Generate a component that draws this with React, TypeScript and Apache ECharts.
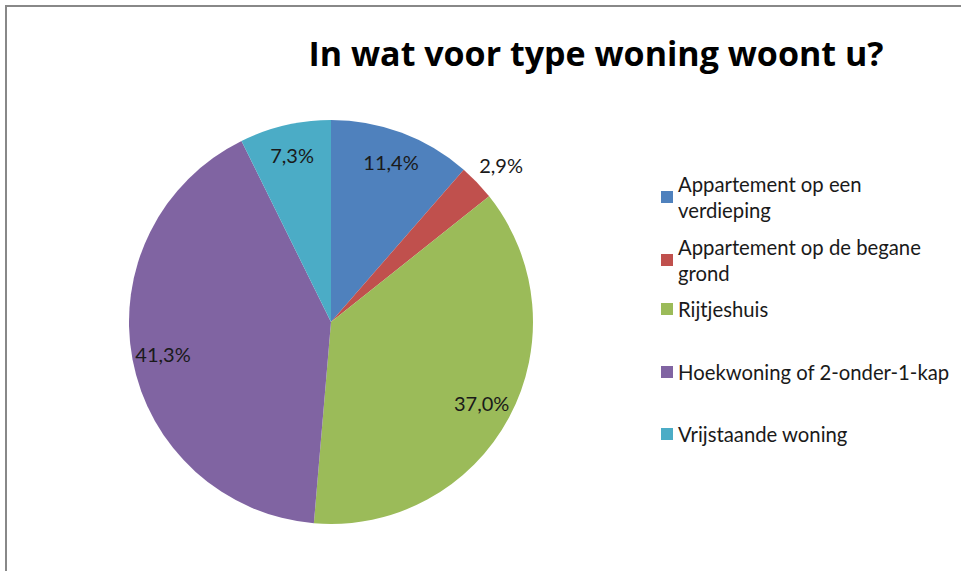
import React, { useEffect, useRef } from "react";
import * as echarts from "echarts";

const titleText = "In wat voor type woning woont u?";
const categories = [
  "Appartement op een verdieping",
  "Appartement op de begane grond",
  "Rijtjeshuis",
  "Hoekwoning of 2-onder-1-kap",
  "Vrijstaande woning",
];
const legendLabels = [
  "Appartement op een\nverdieping",
  "Appartement op de begane\ngrond",
  "Rijtjeshuis",
  "Hoekwoning of 2-onder-1-kap",
  "Vrijstaande woning",
];
const values = [11.4, 2.9, 37.0, 41.3, 7.3];
const labelTexts = ["11,4%", "2,9%", "37,0%", "41,3%", "7,3%"];
const colors = ["#4F81BD", "#C0504D", "#9BBB59", "#8064A2", "#4BACC6"];
const legendTops = [158, 221, 296, 359, 421];

export default function App() {
  const ref = useRef<HTMLDivElement>(null);
  useEffect(() => {
    if (!ref.current) return;
    const chart = echarts.init(ref.current, null, { renderer: "svg" });
    const font = "Lato, 'Open Sans', sans-serif";
    const legends = categories.map((name, i) => {
      const multi = legendLabels[i].includes("\n");
      return {
        data: [name],
        left: 661,
        top: legendTops[i],
        orient: "vertical",
        padding: 0,
        itemWidth: 12,
        itemHeight: 12,
        itemGap: 6,
        icon: "rect",
        selectedMode: false,
        formatter: () => legendLabels[i],
        textStyle: {
          fontFamily: font,
          fontSize: 20.3,
          color: "#1a1a1a",
          lineHeight: 26,
          padding: multi ? [26, 0, 0, 0] : 0,
        },
      };
    });
    const pieData = categories.map((name, i) => ({
      name,
      value: values[i],
      itemStyle: { color: colors[i] },
    }));
    const labelData = categories.map((name, i) => ({
      name,
      value: values[i],
      label:
        i === 1
          ? { position: "outside", offset: [-13, -8] }
          : { position: "inside" },
      labelLine: { show: false, length: 14, length2: 0 },
    }));
    chart.setOption({
      animation: false,
      backgroundColor: "#ffffff",
      title: {
        text: titleText,
        left: 591,
        top: 31,
        textAlign: "center",
        textStyle: {
          fontFamily: "'Open Sans', Lato, sans-serif",
          fontSize: 34,
          fontWeight: "bold",
          color: "#000000",
        },
      },
      legend: legends,
      graphic: [
        {
          type: "rect",
          shape: { x: 6, y: 6, width: 2000, height: 2000 },
          style: { fill: "none", stroke: "#888888", lineWidth: 2 },
          silent: true,
        },
      ],
      series: [
        {
          type: "pie",
          center: [331, 322],
          radius: [0, 202],
          startAngle: 90,
          clockwise: true,
          label: { show: false },
          labelLine: { show: false },
          emphasis: { disabled: true },
          data: pieData,
        },
        {
          type: "pie",
          center: [331, 322],
          radius: [134, 202],
          startAngle: 90,
          clockwise: true,
          silent: true,
          avoidLabelOverlap: false,
          itemStyle: { color: "rgba(0,0,0,0)" },
          emphasis: { disabled: true },
          label: {
            show: true,
            formatter: (p: any) => labelTexts[p.dataIndex],
            fontFamily: font,
            fontSize: 20,
            color: "#1a1a1a",
          },
          data: labelData,
        },
      ],
    });
    return () => chart.dispose();
  }, []);
  return (
    <div
      ref={ref}
      style={{ position: "absolute", left: 0, top: 0, width: 961, height: 571 }}
    />
  );
}
